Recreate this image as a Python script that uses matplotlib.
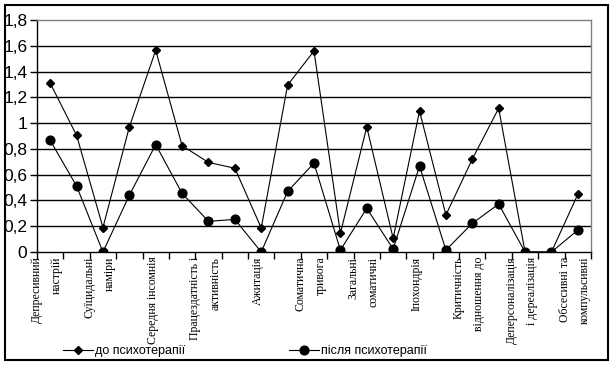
import numpy as np
import matplotlib
matplotlib.use('Agg')
import matplotlib.pyplot as plt
from matplotlib.patches import Rectangle
from matplotlib.lines import Line2D

# values (21 symptoms, labels on every second one)
before = [1.31, 0.905, 0.19, 0.97, 1.565, 0.825, 0.695, 0.65, 0.186, 1.295, 1.56,
          0.145, 0.97, 0.106, 1.094, 0.287, 0.72, 1.115, 0.0, 0.0, 0.447]
after = [0.866, 0.512, 0.0, 0.44, 0.833, 0.455, 0.238, 0.253, 0.0, 0.47, 0.69,
         0.015, 0.339, 0.023, 0.667, 0.015, 0.222, 0.372, 0.0, 0.0, 0.17]
labels = ['Депресивний\nнастрій', 'Суїцидальні\nнаміри', 'Середня інсомнія',
          'Працездатність і\nактивність', 'Ажитація', 'Соматична\nтривога',
          'Загальні\nсоматичні', 'Іпохондрія', 'Критичність\nвідношення до',
          'Деперсоналізація\nі дереалізація', 'Обсесивні та\nкомпульсивні']
yticks = ['0', '0,2', '0,4', '0,6', '0,8', '1', '1,2', '1,4', '1,6', '1,8']
legend_names = ['до психотерапії', 'після психотерапії']

fig = plt.figure(figsize=(6.14, 3.66), dpi=100)
ax = fig.add_axes([37/614, 1-252/366, (591-37)/614, (252-20)/366])

x = np.arange(len(before))
ax.plot(x, before, color='black', lw=0.8, marker='D', ms=4.3, mfc='black', mec='black')
ax.plot(x, after, color='black', lw=0.8, marker='o', ms=6.3, mfc='black', mec='black')

ax.set_xlim(-0.5, len(before) - 0.5)
ax.set_ylim(0, 1.8)
ax.set_yticks(np.arange(len(yticks)) * 0.2)
ax.set_yticklabels(yticks, family='Liberation Sans', fontsize=12.5)
ax.set_xticks(np.arange(-0.5, len(before), 1))
ax.set_xticklabels([])
ax.tick_params(axis='both', direction='out', length=5, width=1, color='black')
ax.tick_params(axis='y', pad=2)
for v in np.arange(1, 9) * 0.2:
    ax.axhline(v, color='black', lw=1, zorder=0)

for s in ['left', 'bottom']:
    ax.spines[s].set_color('black')
    ax.spines[s].set_linewidth(1)
for s in ['top', 'right']:
    ax.spines[s].set_color('#808080')
    ax.spines[s].set_linewidth(1)

trans = ax.get_xaxis_transform()
for i, lab in enumerate(labels):
    ax.text(2 * i - 0.12, -0.02, lab, transform=trans, rotation=90, ha='center', va='top',
            family='Liberation Serif', fontsize=8.5, linespacing=1.9, multialignment='right')

handles = [Line2D([], [], color='black', lw=0.8, marker='D', ms=4.3),
           Line2D([], [], color='black', lw=0.8, marker='o', ms=6.3)]
fig.legend(handles, legend_names, loc='center left', bbox_to_anchor=(52/614, 1-351/366),
           ncol=2, frameon=False, handlelength=2.4, handletextpad=0.15, columnspacing=8.3,
           prop={'family': 'Liberation Sans', 'size': 9})

fig.patches.append(Rectangle((5/614, 1-360/366), 603/614, 355/366, transform=fig.transFigure,
                             fill=False, edgecolor='black', lw=1.5))

fig.savefig('out.png', dpi=100)
